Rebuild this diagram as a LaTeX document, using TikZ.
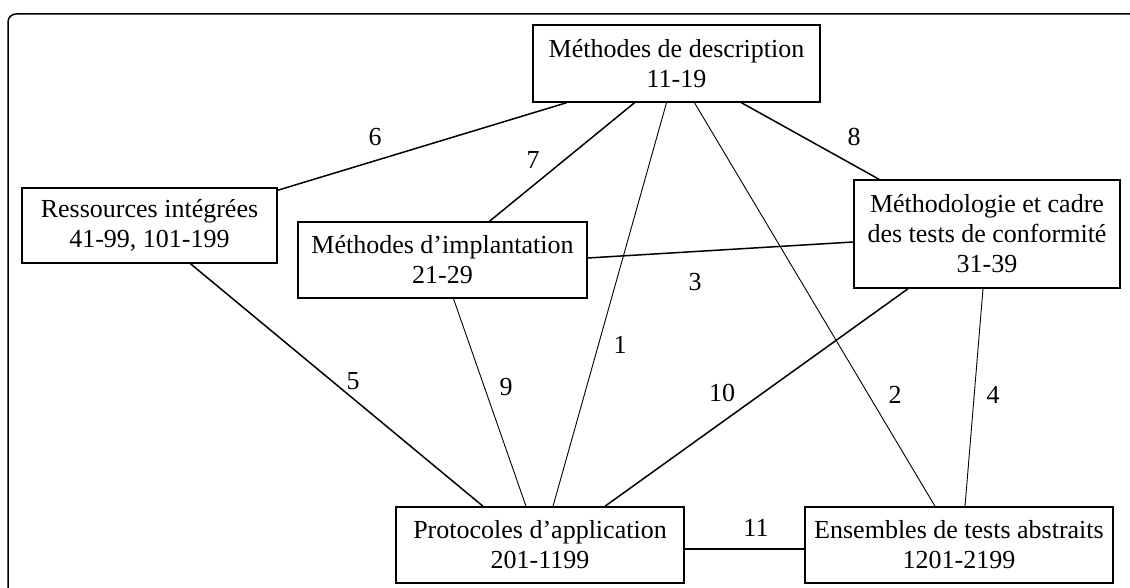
\documentclass[tikz,border=0pt]{standalone}
\usepackage{fontspec}
\setmainfont{Liberation Serif}
\tikzset{
    bloc/.style={draw, line width=1.5pt, align=center, inner sep=2pt, font=\fontsize{26}{30}\selectfont},
    fort/.style={line width=1.5pt},
    fin/.style={line width=0.9pt},
    num/.style={font=\fontsize{26}{30}\selectfont}
}
\begin{document}
\begin{tikzpicture}[x=1pt,y=-1pt]
        \useasboundingbox (0,0) rectangle (1130,588);
        \draw[line width=1.5pt, rounded corners=8pt] (8,588) -- (8,14) -- (1130,14);

        \node[bloc, minimum width=287pt, minimum height=77pt] (desc) at (676.5,63.5) {M\'ethodes de description\\11-19};
        \node[bloc, minimum width=255pt, minimum height=75pt] (ress) at (149.5,225.5) {Ressources int\'egr\'ees\\41-99, 101-199};
        \node[bloc, minimum width=289pt, minimum height=76pt] (impl) at (442.5,260) {M\'ethodes d'implantation\\21-29};
        \node[bloc, minimum width=266pt, minimum height=108pt] (meth) at (987,234) {M\'ethodologie et cadre\\des tests de conformit\'e\\31-39};
        \node[bloc, minimum width=288pt, minimum height=76pt] (prot) at (540,545) {Protocoles d'application\\201-1199};
        \node[bloc, minimum width=308pt, minimum height=76pt] (ens) at (959,545) {Ensembles de tests abstraits\\1201-2199};

        \draw[fort] ([xshift=-110pt]desc.south) -- ([yshift=-3pt]ress.north east);
        \draw[fort] ([xshift=-42pt]desc.south) -- ([xshift=47pt]impl.north);
        \draw[fin] ([xshift=-10pt]desc.south) -- ([xshift=13pt]prot.north);
        \draw[fin] ([xshift=18pt]desc.south) -- ([xshift=-24pt]ens.north);
        \draw[fort] ([xshift=65pt]desc.south) -- ([xshift=-108pt]meth.north);
        \draw[fort] ([yshift=2pt]impl.east) -- ([yshift=-8pt]meth.west);
        \draw[fort] ([xshift=41pt]ress.south) -- ([xshift=-57pt]prot.north);
        \draw[fin] ([xshift=11pt]impl.south) -- ([xshift=-14pt]prot.north);
        \draw[fort] ([xshift=-79pt]meth.south) -- ([xshift=65pt]prot.north);
        \draw[fin] ([xshift=-4pt]meth.south) -- ([xshift=6pt]ens.north);
        \draw[fort] ([yshift=-4pt]prot.east) -- ([yshift=-4pt]ens.west);

        \node[num] (l6) at (375,137) {6};
        \node[num] (l7) at (533,160) {7};
        \node[num] (l8) at (854,137) {8};
        \node[num] (l3) at (695,282) {3};
        \node[num] (l1) at (620,345) {1};
        \node[num] (l5) at (353,381) {5};
        \node[num] (l9) at (506,387) {9};
        \node[num] (l10) at (722,393) {10};
        \node[num] (l2) at (895,395) {2};
        \node[num] (l4) at (993,395) {4};
        \node[num] (l11) at (756,528) {11};

\end{tikzpicture}
\end{document}
